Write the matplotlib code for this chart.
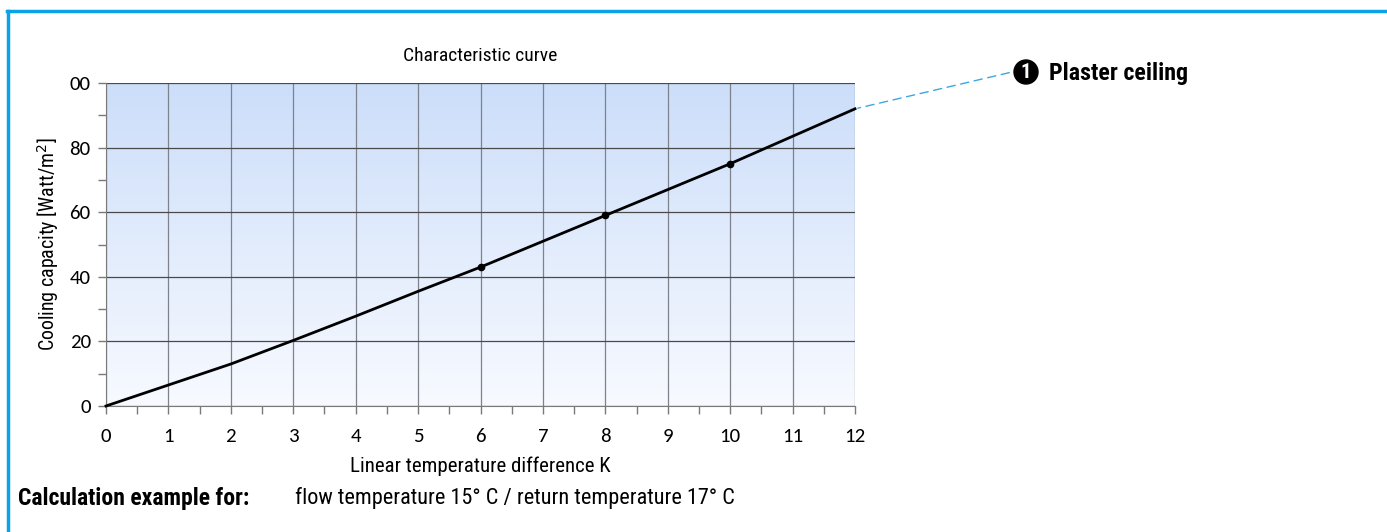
import numpy as np
import matplotlib.pyplot as plt
from matplotlib.lines import Line2D

# Kennlinie Gipsdecke
temp_diff = [0, 1, 2, 3, 4, 5, 6, 7, 8, 9, 10, 11, 12]
capacity = [0, 6.5, 13.0, 20.3, 27.8, 35.5, 43.0, 51.0, 59.0, 67.0, 75.0, 83.5, 92.0]
marked_x = [6, 8, 10]
marked_y = [43.0, 59.0, 75.0]

x_ticks = list(range(0, 13))
y_ticks = [0, 20, 40, 60, 80, 100]
y_labels = ['0', '20', '40', '60', '80', '00']

cond = ['Roboto Condensed', 'DejaVu Sans']
num = ['Carlito', 'DejaVu Sans']

W, H = 1387, 532
fig = plt.figure(figsize=(W / 100, H / 100), dpi=100)

ax = fig.add_axes([106 / W, 1 - 406 / H, (855 - 106) / W, (406 - 83) / H])
ax.set_xlim(0, 12)
ax.set_ylim(0, 100)

# Hintergrund-Verlauf
grad = np.linspace(1, 0, 256).reshape(-1, 1)
top = np.array([0.80, 0.87, 0.98])
bottom = np.array([0.97, 0.98, 1.0])
img = bottom + (top - bottom) * grad[..., None]
ax.imshow(img, extent=[0, 12, 0, 100], aspect='auto', zorder=0)

for gx in x_ticks:
    ax.axvline(gx, color='#7d828c', lw=0.9, zorder=1)
for gy in y_ticks:
    ax.axhline(gy, color='#4a4a4a', lw=0.9, zorder=1)

ax.plot(temp_diff, capacity, color='black', lw=2, zorder=3, clip_on=False)
ax.plot(marked_x, marked_y, 'o', color='black', ms=4.5, zorder=4)

for s in ['top', 'right']:
    ax.spines[s].set_visible(False)
for s in ['left', 'bottom']:
    ax.spines[s].set_color('#7a7a7a')

ax.set_xticks(x_ticks)
ax.set_xticks(np.arange(0.5, 12, 1), minor=True)
ax.set_yticks(y_ticks)
ax.set_yticklabels(y_labels)
ax.set_yticks(range(10, 100, 20), minor=True)
ax.tick_params(which='both', direction='out', length=6, color='#7a7a7a', width=1)
ax.tick_params(axis='x', pad=10)
ax.tick_params(axis='y', pad=5)
for lab in ax.get_xticklabels() + ax.get_yticklabels():
    lab.set_family(num)
    lab.set_fontsize(15)

ax.set_xlabel('Linear temperature difference K', family=cond, fontsize=15, labelpad=8)
ax.set_ylabel('Cooling capacity [Watt/m$^2$]', family=cond, fontsize=14.3, labelpad=6)
ax.set_title('Characteristic curve', family=cond, fontsize=14, pad=16)

# Rahmen oben und links
fig.add_artist(Line2D([7 / W, 1], [1 - 11 / H, 1 - 11 / H], color='#0aa3e6', lw=2.5))
fig.add_artist(Line2D([8 / W, 8 / W], [0, 1 - 11 / H], color='#0aa3e6', lw=2.5))

# Beschriftung der Kurve
ax.annotate('', xy=(12, 92), xytext=(1012 / W, 1 - 72 / H), textcoords='figure fraction',
            arrowprops=dict(arrowstyle='-', color='#3aa8e0', ls=(0, (6, 4)), lw=1),
            annotation_clip=False)
fig.text(1026 / W, 1 - 72 / H, '1', ha='center', va='center', color='white',
         fontsize=15, fontweight='bold', family=cond,
         bbox=dict(boxstyle='circle,pad=0.12', fc='black', ec='black'))
fig.text(1049 / W, 1 - 73 / H, 'Plaster ceiling', ha='left', va='center',
         fontsize=17.3, fontweight='bold', family=cond)

fig.text(18 / W, 1 - 498 / H, 'Calculation example for:', ha='left', va='center',
         fontsize=17, fontweight='bold', family=cond)
fig.text(295 / W, 1 - 498 / H, 'flow temperature 15° C / return temperature 17° C',
         ha='left', va='center', fontsize=16, family=cond)

fig.savefig('out.png', dpi=100)
